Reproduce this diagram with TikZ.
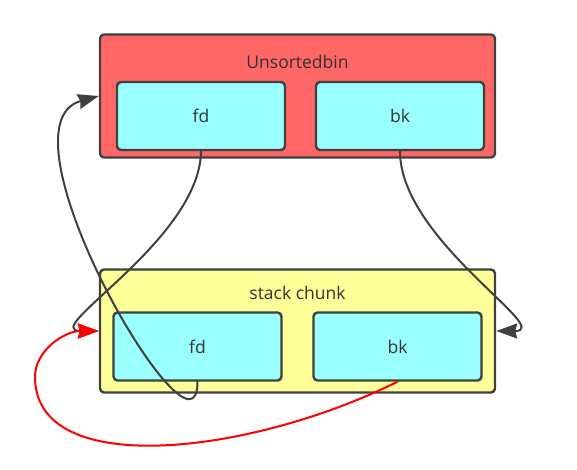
\documentclass[tikz,border=0pt]{standalone}
\usepackage{fontspec}
\setmainfont{Open Sans}
\usetikzlibrary{arrows.meta,positioning}

\definecolor{binred}{HTML}{FF6666}
\definecolor{chunkyellow}{HTML}{FFFF99}
\definecolor{fieldcyan}{HTML}{99FFFF}
\definecolor{edgegray}{HTML}{404040}
\definecolor{textgray}{HTML}{333333}

\begin{document}
\begin{tikzpicture}[x=1pt, y=-1pt, >={Stealth[length=21pt,width=15pt,inset=2pt]},
		line cap=round, line join=round,
		outer/.style={draw=edgegray, line width=2.4pt, rounded corners=4pt, inner sep=0pt,
			minimum width=395pt, minimum height=123pt},
		field/.style={draw=edgegray, line width=2.4pt, rounded corners=4pt, inner sep=0pt,
			fill=fieldcyan, minimum width=168pt, minimum height=68pt,
			text=textgray, font=\fontsize{17.5}{20}\selectfont},
		title/.style={text=textgray, inner sep=0pt, font=\fontsize{17.5}{20}\selectfont},
		link/.style={draw=edgegray, line width=2pt, ->}]
	
	\useasboundingbox (0,0) rectangle (577,469);
	
	% Unsortedbin
	\node[outer, fill=binred] (unsorted) at (297.5,96) {};
	\node[title] (ubname) at (297.5,62) {Unsortedbin};
	\node[field] (ufd) at (201,116) {fd};
	\node[field] (ubk) at (400,116) {bk};
	
	% stack chunk
	\node[outer, fill=chunkyellow] (stack) at (297.5,331) {};
	\node[title] (scname) at (297.5,293) {stack chunk};
	\node[field] (sfd) at (197.5,346.5) {fd};
	\node[field] (sbk) at (397.5,346.5) {bk};
	
	% unsortedbin fd -> stack chunk
	\draw[link] (ufd.south) .. controls (200,240) and (38,331) .. (stack.west);
	% stack chunk fd -> unsortedbin
	\draw[link] (sfd.south) .. controls (198,481) and (-10,126) .. (unsorted.west);
	% unsortedbin bk -> stack chunk
	\draw[link] (ubk.south) .. controls (400,240) and (556,331) .. (stack.east);
	% stack chunk bk -> stack chunk
	\draw[link, draw=red] (sbk.south) .. controls (250,455) and (35,480) .. (35,377)
		.. controls (35,350) and (65,331) .. (stack.west);
	
\end{tikzpicture}
\end{document}
